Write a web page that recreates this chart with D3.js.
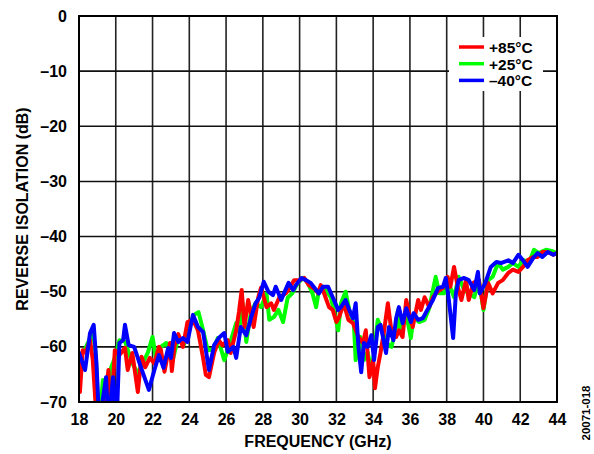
<!DOCTYPE html>
<html>
<head>
<meta charset="utf-8">
<script src="https://cdn.jsdelivr.net/npm/d3@7"></script>
<style>
  html, body { margin: 0; padding: 0; background: #fff; }
  svg { display: block; }
  text { font-family: Arial, "Liberation Sans", sans-serif; font-weight: bold; fill: #000; }
</style>
</head>
<body>
<script>
// ---- Data (frequency GHz, reverse isolation dB) ----
const xTicks = [18, 20, 22, 24, 26, 28, 30, 32, 34, 36, 38, 40, 42, 44];
const yTicks = [0, -10, -20, -30, -40, -50, -60, -70];
const seriesNames = ["+85°C", "+25°C", "–40°C"];

const red85 = [[18.0,-62.7],[18.05,-68.2],[18.2,-60.6],[18.35,-61],[18.6,-58.8],[18.75,-62.4],[18.97,-74],[19.3,-74],[19.6,-64.2],[19.72,-74],[19.95,-60.6],[20.2,-61.5],[20.5,-60.2],[20.65,-64.2],[20.9,-61.1],[21.2,-68.2],[21.4,-61.8],[21.6,-63.7],[21.85,-62],[22.1,-63],[22.35,-60],[22.45,-60.5],[22.65,-64.5],[22.95,-59.3],[23.05,-64.4],[23.2,-59.7],[23.4,-57.7],[23.65,-60],[23.9,-55.5],[24.2,-55.1],[24.47,-57],[24.75,-62],[24.9,-65.1],[25.07,-65.5],[25.35,-61.1],[25.6,-58.8],[25.8,-59.7],[26.1,-58.8],[26.25,-61.1],[26.55,-57],[26.7,-53.7],[26.85,-49.7],[27.0,-56.4],[27.2,-51.5],[27.5,-56.4],[27.75,-51],[27.9,-49.3],[28.2,-52.8],[28.45,-52.1],[28.6,-53.3],[28.9,-51],[29.25,-50.3],[29.5,-49.1],[29.7,-47.9],[30.0,-47.9],[30.25,-47.5],[30.5,-48.8],[30.9,-49.7],[31.0,-50.3],[31.15,-48.8],[31.3,-50],[31.6,-52.8],[31.8,-53.3],[32.0,-55.5],[32.15,-54.6],[32.4,-52.1],[32.65,-55.1],[32.9,-55.7],[33.2,-58.2],[33.45,-59.3],[33.6,-57],[33.8,-65.5],[34.0,-62.4],[34.1,-67.5],[34.25,-63.7],[34.4,-61.1],[34.6,-57],[34.8,-52.1],[35.0,-57.3],[35.25,-58.2],[35.4,-57],[35.6,-58.2],[35.8,-51.5],[35.95,-53.9],[36.15,-56.4],[36.45,-51.5],[36.6,-53.3],[36.8,-51],[37.05,-52.8],[37.25,-51],[37.5,-50],[37.8,-49.3],[38.05,-47.3],[38.2,-49.1],[38.4,-45.5],[38.6,-49.1],[38.8,-51.5],[39.05,-47.9],[39.2,-51.5],[39.45,-48.4],[39.75,-47.9],[40.0,-53],[40.25,-48.4],[40.5,-50.3],[40.8,-48.4],[41.05,-47.9],[41.35,-46.6],[41.6,-46],[41.9,-46.4],[42.15,-45.5],[42.4,-44.3],[42.7,-43.7],[42.95,-43.7],[43.2,-42.8],[43.5,-42.8],[43.8,-43.3],[44.0,-43]];

const green25 = [[18.0,-61.8],[18.3,-60.6],[18.55,-58.8],[18.75,-57],[18.9,-61],[19.1,-74],[19.3,-66],[19.45,-74],[19.75,-63.7],[19.95,-62],[20.2,-58.8],[20.5,-59],[20.9,-63],[21.2,-64.8],[21.5,-62.7],[21.75,-61],[22.0,-58.2],[22.2,-62.4],[22.45,-60],[22.75,-59.3],[23.1,-62.4],[23.4,-58.2],[23.7,-59.7],[24.0,-56.4],[24.25,-54.2],[24.5,-53.7],[24.75,-57],[25.0,-60.6],[25.3,-60.5],[25.55,-58.4],[25.9,-62.4],[26.15,-60],[26.55,-55.7],[26.7,-57.3],[26.9,-52.1],[27.1,-59.1],[27.35,-53.7],[27.6,-52.1],[27.9,-52.8],[28.2,-50.3],[28.35,-55.1],[28.6,-54.6],[28.85,-53.3],[29.1,-55.5],[29.35,-51.1],[29.6,-50.3],[29.9,-48.4],[30.2,-47.5],[30.45,-48.4],[30.7,-50.3],[30.9,-52.8],[31.05,-49.7],[31.3,-49.1],[31.7,-51],[32.1,-57],[32.25,-52.1],[32.5,-50],[32.7,-53.3],[32.95,-55.7],[33.05,-62.4],[33.3,-58.2],[33.5,-62.4],[33.7,-61],[33.9,-64.2],[34.05,-61.1],[34.25,-55.1],[34.5,-57],[34.7,-59.3],[35.0,-60],[35.25,-56.4],[35.35,-53.3],[35.5,-57.5],[35.8,-54],[36.05,-58.4],[36.2,-54.6],[36.5,-55.5],[36.8,-55.1],[37.05,-53],[37.4,-47.3],[37.6,-50.3],[37.85,-50.3],[38.1,-48.4],[38.4,-51],[38.65,-47.3],[38.95,-49.7],[39.2,-50.3],[39.5,-51],[39.75,-47.9],[40.0,-53.3],[40.25,-47.9],[40.5,-47.3],[40.8,-44.8],[41.05,-46],[41.35,-45.5],[41.6,-44.8],[41.9,-45.5],[42.15,-44.3],[42.5,-44.5],[42.75,-42.4],[43.0,-43],[43.4,-42.4],[43.7,-42.6],[44.0,-43]];

const blue40 = [[18.0,-61.1],[18.33,-64.2],[18.6,-57.5],[18.8,-56.0],[18.95,-63],[19.1,-74],[19.47,-65.5],[19.6,-74],[19.85,-65.5],[20.05,-74],[20.2,-59.3],[20.4,-58.8],[20.5,-56.0],[20.7,-59.7],[21.0,-60.0],[21.37,-63.7],[21.8,-67.8],[22.1,-64.2],[22.35,-61.5],[22.6,-63.8],[22.85,-60.2],[23.0,-62],[23.17,-57.5],[23.4,-59.1],[23.65,-58.4],[23.9,-59.1],[24.2,-54.2],[24.47,-56.4],[24.75,-57.3],[25.07,-64.2],[25.35,-59.7],[25.6,-58.4],[25.9,-57.5],[26.1,-60.9],[26.4,-60],[26.55,-62],[26.8,-56.4],[27.1,-57.9],[27.35,-54.8],[27.6,-52.1],[27.8,-51.1],[28.05,-48.2],[28.3,-50],[28.55,-50.6],[28.7,-49.1],[29.0,-51.5],[29.15,-50.3],[29.4,-48.4],[29.65,-49.7],[29.8,-48.8],[30.1,-47.5],[30.35,-47.9],[30.6,-48.4],[30.9,-49.7],[31.05,-50.3],[31.27,-49.1],[31.55,-49.1],[31.8,-51],[32.1,-53.3],[32.25,-52.8],[32.5,-51.5],[32.7,-53.3],[32.9,-54.8],[33.05,-52.1],[33.2,-60],[33.35,-64.6],[33.5,-59.3],[33.7,-60],[33.9,-57.9],[34.05,-62.4],[34.25,-56.4],[34.4,-56],[34.7,-61.1],[34.86,-56.4],[35.1,-58.8],[35.25,-54.8],[35.4,-52.8],[35.6,-55.7],[35.8,-53],[36.05,-55.5],[36.2,-53.9],[36.45,-55.1],[36.7,-54.8],[37.0,-53],[37.25,-51.5],[37.53,-49.3],[37.8,-49.1],[37.95,-47.5],[38.1,-51],[38.35,-58.4],[38.5,-50.3],[38.65,-47.9],[38.95,-47.5],[39.2,-47.9],[39.5,-49.7],[39.7,-46.4],[39.8,-50.3],[40.1,-48.4],[40.4,-45.5],[40.7,-44.6],[40.95,-44.8],[41.35,-44.3],[41.6,-44.8],[41.9,-43.3],[42.15,-44.3],[42.4,-45.5],[42.7,-43.9],[42.95,-43],[43.2,-43.7],[43.5,-42.8],[43.8,-43.3],[44.0,-43]];

const seriesData = [green25, red85, blue40];          // draw order
const seriesColors = ["#00ff00", "#ff0000", "#0000ff"];

// ---- Layout ----
const W = 594, H = 454;
const M = { left: 79, right: 37, top: 16, bottom: 52 };
const pw = W - M.left - M.right, ph = H - M.top - M.bottom;

const svg = d3.select("body").append("svg").attr("width", W).attr("height", H);
const x = d3.scaleLinear().domain([18, 44]).range([M.left, M.left + pw]);
const y = d3.scaleLinear().domain([-70, 0]).range([M.top + ph, M.top]);

// grid
const g = svg.append("g");
g.selectAll(".vg").data(xTicks).join("line")
  .attr("x1", d => x(d)).attr("x2", d => x(d))
  .attr("y1", M.top).attr("y2", M.top + ph)
  .attr("stroke", "#222").attr("stroke-width", 1.6);
g.selectAll(".hg").data(yTicks).join("line")
  .attr("x1", M.left).attr("x2", M.left + pw)
  .attr("y1", d => y(d)).attr("y2", d => y(d))
  .attr("stroke", "#111").attr("stroke-width", 1.6);

// clip
svg.append("clipPath").attr("id", "clip").append("rect")
  .attr("x", M.left).attr("y", M.top).attr("width", pw).attr("height", ph);

const line = d3.line().x(d => x(d[0])).y(d => y(d[1]));
svg.append("g").attr("clip-path", "url(#clip)")
  .selectAll("path").data(seriesData).join("path")
  .attr("d", line)
  .attr("fill", "none")
  .attr("stroke", (d, i) => seriesColors[i])
  .attr("stroke-width", 4)
  .attr("stroke-linejoin", "round")
  .attr("stroke-linecap", "round");

// frame
svg.append("rect").attr("x", M.left).attr("y", M.top).attr("width", pw).attr("height", ph)
  .attr("fill", "none").attr("stroke", "#000").attr("stroke-width", 2);

// axes (tick labels via d3 axes, no domain/tick lines)
const fmtY = d => d === 0 ? "0" : "–" + Math.abs(d);
const xAxis = svg.append("g").attr("transform", `translate(0,${M.top + ph})`)
  .call(d3.axisBottom(x).tickValues(xTicks).tickSize(0).tickPadding(12).tickFormat(d3.format("d")));
const yAxis = svg.append("g").attr("transform", `translate(${M.left},0)`)
  .call(d3.axisLeft(y).tickValues(yTicks).tickSize(0).tickPadding(12).tickFormat(fmtY));
[xAxis, yAxis].forEach(a => {
  a.select(".domain").remove();
  a.selectAll("text").attr("font-family", "Arial, 'Liberation Sans', sans-serif")
    .attr("font-weight", "bold").attr("font-size", 16).attr("fill", "#000");
});

// axis titles
svg.append("text").attr("x", M.left + pw / 2).attr("y", 447)
  .attr("text-anchor", "middle").attr("font-size", 16).text("FREQUENCY (GHz)");
svg.append("text").attr("transform", `translate(28,${M.top + ph / 2}) rotate(-90)`)
  .attr("text-anchor", "middle").attr("font-size", 16).text("REVERSE ISOLATION (dB)");

// legend
const lg = svg.append("g");
lg.append("rect").attr("x", 449).attr("y", 37).attr("width", 94).attr("height", 54).attr("fill", "#fff");
const legendColors = ["#ff0000", "#00ff00", "#0000ff"];
seriesNames.forEach((n, i) => {
  const ly = 47 + i * 16.7;
  lg.append("line").attr("x1", 459).attr("x2", 484).attr("y1", ly).attr("y2", ly)
    .attr("stroke", legendColors[i]).attr("stroke-width", 3.5);
  lg.append("text").attr("x", 489).attr("y", ly + 6).attr("font-size", 15.5).text(n);
});

// figure id
svg.append("text").attr("transform", `translate(590,413) rotate(-90)`)
  .attr("text-anchor", "middle").attr("font-size", 11.5).attr("font-weight", "normal")
  .attr("fill", "#333").text("20071-018");
</script>
</body>
</html>
